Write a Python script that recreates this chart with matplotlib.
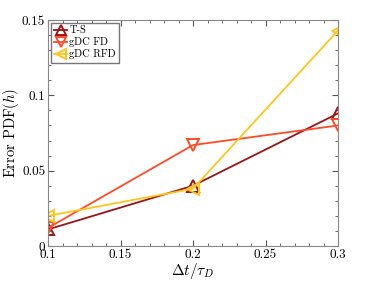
import numpy as np
import matplotlib
matplotlib.use("Agg")
import matplotlib.pyplot as plt
from matplotlib.ticker import MultipleLocator

plt.rcParams['font.family'] = 'serif'
plt.rcParams['font.serif'] = ['cmr10']
plt.rcParams['mathtext.fontset'] = 'cm'
plt.rcParams['axes.formatter.use_mathtext'] = True

# data
dt = [0.1, 0.2, 0.3]
err_ts = [0.011, 0.040, 0.088]
err_fd = [0.012, 0.067, 0.080]
err_rfd = [0.020, 0.038, 0.143]

fig = plt.figure(figsize=(3.74, 2.81), dpi=100)
ax = fig.add_axes([48/374, 35/281, 290/374, 226/281])

ax.plot(dt, err_ts, color='#9b1414', lw=1.3, marker='^', ms=8.5,
        mfc='none', mew=1.4, label='T-S')
ax.plot(dt, err_fd, color='#ff4a24', lw=1.3, marker='v', ms=8.5,
        mfc='none', mew=1.4, label='gDC FD')
ax.plot(dt, err_rfd, color='#ffc61a', lw=1.3, marker='<', ms=8.5,
        mfc='none', mew=1.4, label='gDC RFD')

ax.set_xlim(0.1, 0.3)
ax.set_ylim(0, 0.15)
ax.xaxis.set_major_locator(MultipleLocator(0.05))
ax.xaxis.set_minor_locator(MultipleLocator(0.01))
ax.yaxis.set_major_locator(MultipleLocator(0.05))
ax.yaxis.set_minor_locator(MultipleLocator(0.01))
ax.set_xticks([0.1, 0.15, 0.2, 0.25, 0.3])
ax.set_xticklabels(['0.1', '0.15', '0.2', '0.25', '0.3'])
ax.set_yticks([0, 0.05, 0.1, 0.15])
ax.set_yticklabels(['0', '0.05', '0.1', '0.15'])
ax.tick_params(which='both', direction='in', top=True, right=True,
               labelsize=9.5, color='#555555', pad=2)
ax.tick_params(which='major', length=4)
ax.tick_params(which='minor', length=2)
for s in ax.spines.values():
    s.set_color('#888888')
    s.set_linewidth(0.8)

ax.set_xlabel(r'$\Delta t/\tau_D$', fontsize=11, labelpad=0)
ax.set_ylabel(r'Error PDF$(h)$', fontsize=10.5, labelpad=1)

ax.legend(loc='upper left', fontsize=7.5, handlelength=1.3, handletextpad=0.2,
          borderpad=0.3, labelspacing=0.2, borderaxespad=0.25, markerscale=0.8,
          fancybox=False, edgecolor='#777777', framealpha=1)

fig.savefig('out.png', dpi=100)
